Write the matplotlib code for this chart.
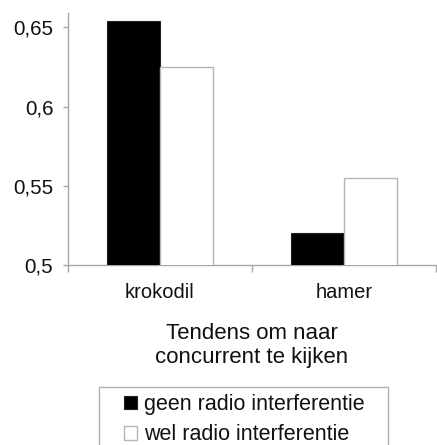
import matplotlib
matplotlib.use("Agg")
import matplotlib.pyplot as plt
from matplotlib.patches import Rectangle
import numpy as np

categories = ["krokodil", "hamer"]
series_names = ["geen radio interferentie", "wel radio interferentie"]
geen_values = [0.654, 0.520]
wel_values = [0.625, 0.555]
y_ticks = [0.5, 0.55, 0.6, 0.65]
y_tick_labels = ["0,5", "0,55", "0,6", "0,65"]
x_title = "Tendens om naar\nconcurrent te kijken"

plt.rcParams["font.family"] = ["Liberation Sans", "DejaVu Sans"]
axis_grey = "#a6a6a6"
text_color = "#111111"

W, H = 437, 445
fig = plt.figure(figsize=(W / 100, H / 100), dpi=100)
ax = fig.add_axes([68 / W, 1 - 265 / H, (436 - 68) / W, (265 - 13) / H])

x = np.arange(len(categories))
w = 0.29
ax.bar(x - w / 2, geen_values, width=w, color="black", edgecolor="#222222",
       linewidth=0.8, label=series_names[0], zorder=3)
ax.bar(x + w / 2, wel_values, width=w, color="white", edgecolor="#b5b5b5",
       linewidth=1.0, label=series_names[1], zorder=3)

ax.set_xlim(-0.5, len(categories) - 0.5)
ax.set_ylim(0.5, 0.659)

for side in ["top", "right"]:
    ax.spines[side].set_visible(False)
for side in ["left", "bottom"]:
    ax.spines[side].set_color(axis_grey)
    ax.spines[side].set_linewidth(1.0)

ax.set_yticks(y_ticks)
ax.set_yticklabels(y_tick_labels)
ax.tick_params(axis="y", direction="out", length=3.6, width=1.0, color=axis_grey,
               labelsize=14.8, pad=7, labelcolor=text_color)

ax.set_xticks(x)
ax.set_xticklabels(categories)
ax.tick_params(axis="x", which="major", length=0, labelsize=14.5, pad=13,
               labelcolor=text_color)
ax.set_xticks(np.arange(-0.5, len(categories)), minor=True)
ax.tick_params(axis="x", which="minor", direction="out", length=5, width=1.0,
               color=axis_grey)

fig.text((68 + 436) / 2 / W, 1 - 345.5 / H, x_title, ha="center", va="center",
         fontsize=16, color=text_color, linespacing=1.22)

# legend frame runs past the bottom edge of the figure
fig.patches.append(Rectangle((99 / W, -0.05), (388 - 99) / W, 1 - 387 / H + 0.05,
                             transform=fig.transFigure, facecolor="none",
                             edgecolor="#b0b0b0", linewidth=1.0))

leg = fig.legend(loc="upper left", bbox_to_anchor=(124 / W, 1 - 394 / H),
                 fontsize=15.5, handlelength=0.6, handleheight=0.6,
                 handletextpad=0.33, borderpad=0, borderaxespad=0,
                 labelspacing=0.44, frameon=False)
for t in leg.get_texts():
    t.set_color(text_color)

fig.savefig("out.png", dpi=100)
